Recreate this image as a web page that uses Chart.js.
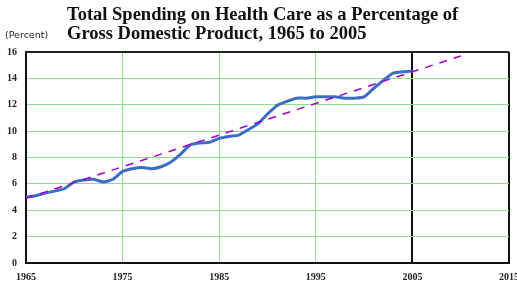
<!DOCTYPE html>
<html>
<head>
<meta charset="utf-8">
<script src="https://cdn.jsdelivr.net/npm/chart.js@4"></script>
<style>
  html, body { margin: 0; padding: 0; background: #fff; }
  #wrap { position: relative; width: 517px; height: 287px; }
  #title { position: absolute; left: 67px; top: 5px; font-family: "Liberation Serif", "Times New Roman", serif;
           font-weight: bold; font-size: 18.5px; line-height: 19px; color: #111; white-space: nowrap; }
  #unit { position: absolute; left: 5px; top: 29px; font-family: "DejaVu Sans", sans-serif; font-size: 9.5px; color: #222; }
  canvas { position: absolute; left: 0; top: 0; }
</style>
</head>
<body>
<div id="wrap">
  <canvas id="healthChart" width="517" height="287"></canvas>
  <div id="title">Total Spending on Health Care as a Percentage of<br>Gross Domestic Product, 1965 to 2005</div>
  <div id="unit">(Percent)</div>
</div>
<script>
// 年と医療支出(GDP比%)
const years = [1965, 1966, 1967, 1968, 1969, 1970, 1971, 1972, 1973, 1974, 1975, 1976, 1977, 1978, 1979,
  1980, 1981, 1982, 1983, 1984, 1985, 1986, 1987, 1988, 1989, 1990, 1991, 1992, 1993, 1994, 1995,
  1996, 1997, 1998, 1999, 2000, 2001, 2002, 2003, 2004, 2005];
const spending = [5.0, 5.1, 5.3, 5.45, 5.65, 6.15, 6.3, 6.35, 6.15, 6.35, 6.95, 7.15, 7.25, 7.15, 7.3,
  7.65, 8.25, 8.95, 9.1, 9.15, 9.45, 9.6, 9.7, 10.1, 10.55, 11.3, 11.95, 12.25, 12.5, 12.5, 12.6,
  12.6, 12.6, 12.5, 12.5, 12.6, 13.25, 13.85, 14.4, 14.5, 14.55];
// トレンド線(破線)
const trendYears = [1965, 2010];
const trendValues = [4.9, 15.7];
const xTicks = [1965, 1975, 1985, 1995, 2005, 2015];
const yTicks = [0, 2, 4, 6, 8, 10, 12, 14, 16];

const green = '#8ede8e';
const tickFont = { family: '"Liberation Serif", serif', size: 10, weight: 'bold' };

const ctx = document.getElementById('healthChart').getContext('2d');
new Chart(ctx, {
    type: 'line',
    data: {
        datasets: [
            {
                label: 'Trend',
                data: trendYears.map((x, i) => ({ x: x, y: trendValues[i] })),
                borderColor: '#a000d0',
                borderWidth: 1.5,
                borderDash: [8, 7],
                pointRadius: 0,
                fill: false
            },
            {
                label: 'Spending',
                data: years.map((x, i) => ({ x: x, y: spending[i] })),
                borderColor: '#3d6cc4',
                borderWidth: 3,
                pointRadius: 0,
                tension: 0.2,
                fill: false
            }
        ]
    },
    options: {
        responsive: false,
        animation: false,
        layout: { padding: { top: 52, right: 8, left: 0, bottom: 0 } },
        plugins: {
            legend: { display: false },
            title: { display: false },
            tooltip: { enabled: false }
        },
        scales: {
            x: {
                type: 'linear',
                min: 1965,
                max: 2015,
                afterBuildTicks: function(scale) {
                    scale.ticks = xTicks.map(v => ({ value: v }));
                },
                afterFit: function(scale) {
                    scale.height = 24;
                    scale.paddingLeft = 0;
                    scale.paddingRight = 0;
                },
                border: { display: true, color: '#111', width: 2 },
                grid: {
                    drawTicks: false,
                    color: function(c) {
                        const v = c.tick ? c.tick.value : null;
                        return (v === 2005 || v === 2015) ? '#111' : green;
                    },
                    lineWidth: function(c) {
                        const v = c.tick ? c.tick.value : null;
                        return (v === 2005 || v === 2015) ? 2 : 1;
                    }
                },
                ticks: {
                    padding: 8,
                    color: '#222',
                    font: tickFont,
                    maxRotation: 0,
                    callback: v => String(v)
                }
            },
            y: {
                min: 0,
                max: 16,
                afterBuildTicks: function(scale) {
                    scale.ticks = yTicks.map(v => ({ value: v }));
                },
                afterFit: function(scale) {
                    scale.width = 26;
                    scale.paddingTop = 0;
                    scale.paddingBottom = 0;
                },
                border: { display: true, color: '#111', width: 2 },
                grid: {
                    drawTicks: false,
                    color: function(c) {
                        const v = c.tick ? c.tick.value : null;
                        return v === 16 ? '#222' : green;
                    },
                    lineWidth: function(c) {
                        const v = c.tick ? c.tick.value : null;
                        return v === 16 ? 2 : 1;
                    }
                },
                ticks: {
                    padding: 9,
                    color: '#222',
                    font: tickFont
                }
            }
        }
    }
});
</script>
</body>
</html>
